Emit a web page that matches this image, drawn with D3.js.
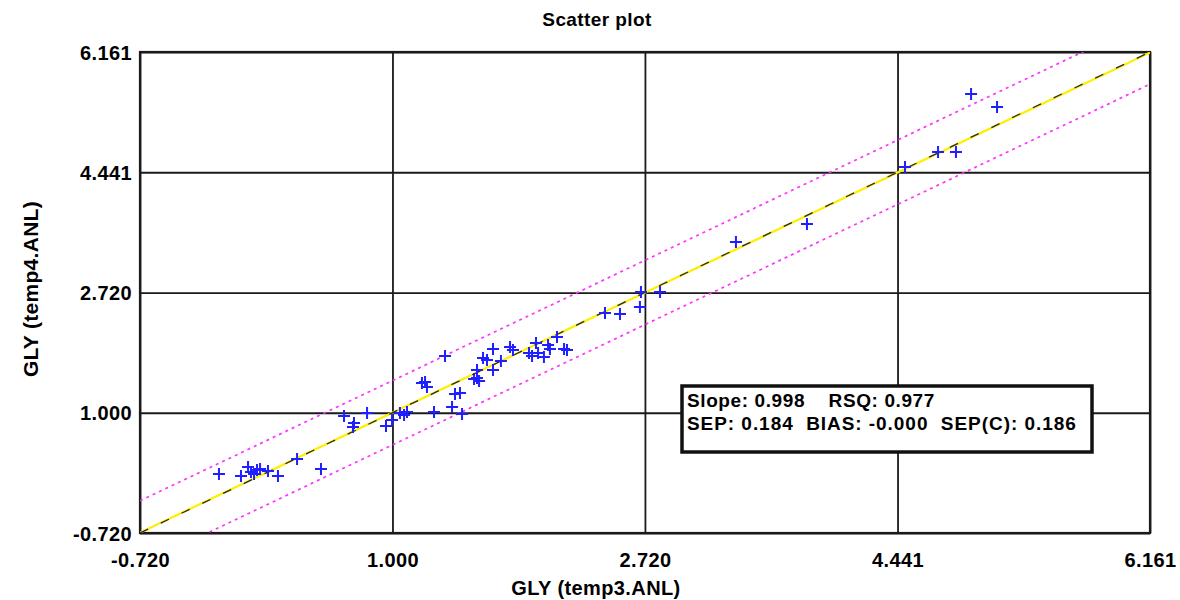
<!DOCTYPE html>
<html>
<head>
<meta charset="utf-8">
<script src="https://cdn.jsdelivr.net/npm/d3@7/dist/d3.min.js"></script>
<style>
  html, body { margin: 0; padding: 0; background: #fff; }
  svg { display: block; font-family: "Liberation Sans", Arial, sans-serif; }
</style>
</head>
<body>
<svg id="chart" width="1180" height="600"></svg>
<script>
// Axis range and tick labels (both axes share the same scale)
const axisMin = -0.720;
const axisMax = 6.161;
const tickValues = [-0.720, 1.000, 2.720, 4.441, 6.161];
const tickLabels = ["-0.720", "1.000", "2.720", "4.441", "6.161"];

// Reference values (temp3.ANL) and predicted values (temp4.ANL)
const xValues = [
  -0.182, -0.032, 0.016, 0.036, 0.057, 0.077, 0.098, 0.152, 0.220, 0.350, 0.513,
  1.358, 0.670, 0.738, 0.731, 0.827, 0.956, 0.997, 1.051, 1.079, 1.099,
  1.201, 1.222, 1.235, 1.283, 1.406, 1.426, 1.460, 1.474, 1.556, 1.576,
  1.576, 1.590, 1.617, 1.644, 1.685, 1.685, 1.739, 1.801, 1.821, 1.930,
  1.951, 1.978, 1.992, 2.032, 2.060, 2.073, 2.121, 2.169, 2.189,
  2.448, 2.550, 2.686, 2.693, 2.823, 3.340, 3.824, 4.492, 4.717, 4.839, 4.942, 5.119
];
const yValues = [
  0.124, 0.095, 0.224, 0.153, 0.124, 0.181, 0.196, 0.167, 0.095, 0.339, 0.196,
  1.812, 0.954, 0.854, 0.796, 0.997, 0.811, 0.897, 0.997, 0.968, 1.011,
  1.426, 1.440, 1.369, 1.011, 1.083, 1.269, 1.283, 0.982, 1.483, 1.612,
  1.497, 1.455, 1.784, 1.755, 1.912, 1.612, 1.741, 1.941, 1.898, 1.855,
  1.812, 1.998, 1.855, 1.798, 1.970, 1.912, 2.084, 1.912, 1.898,
  2.427, 2.413, 2.513, 2.728, 2.728, 3.443, 3.700, 4.516, 4.731, 4.731, 5.560, 5.374
];

// Calibration statistics
const slope = 0.998;
const rsq = 0.977;
const sep = 0.184;
const bias = -0.000;
const sepC = 0.186;
const intercept = 0.004;
const bandWidth = 2.5 * sep;   // half-width of the prediction band

const svg = d3.select("#chart");
svg.append("rect").attr("width", 1180).attr("height", 600).attr("fill", "#fff");

const m = { left: 140, right: 1150, top: 52, bottom: 533 };
const x = d3.scaleLinear().domain([axisMin, axisMax]).range([m.left, m.right]);
const y = d3.scaleLinear().domain([axisMin, axisMax]).range([m.bottom, m.top]);
const W = m.right - m.left, H = m.bottom - m.top;

// Grid lines and tick labels from the axes
const gx = svg.append("g")
  .attr("transform", `translate(0,${m.bottom})`)
  .call(d3.axisBottom(x).tickValues(tickValues).tickSize(-H).tickSizeOuter(0)
        .tickFormat((d, i) => tickLabels[i]));
const gy = svg.append("g")
  .attr("transform", `translate(${m.left},0)`)
  .call(d3.axisLeft(y).tickValues(tickValues).tickSize(-W).tickSizeOuter(0)
        .tickFormat((d, i) => tickLabels[i]));
[gx, gy].forEach(g => {
  g.select(".domain").remove();
  g.selectAll(".tick line").attr("stroke", "#1a1a1a").attr("stroke-width", 1.8);
  g.selectAll(".tick text")
    .attr("fill", "#000").attr("font-size", 20).attr("font-weight", "bold")
    .attr("letter-spacing", 0.4)
    .attr("font-family", "Liberation Sans, Arial, sans-serif");
});
gx.selectAll(".tick text").attr("dy", null).attr("y", 34);
gy.selectAll(".tick text").attr("x", -8).attr("dy", "0.36em");

// Plot frame
svg.append("rect")
  .attr("x", m.left).attr("y", m.top).attr("width", W).attr("height", H)
  .attr("fill", "none").attr("stroke", "#1a1a1a").attr("stroke-width", 2.2);

svg.append("clipPath").attr("id", "plotclip")
  .append("rect").attr("x", m.left).attr("y", m.top).attr("width", W).attr("height", H);
const plot = svg.append("g").attr("clip-path", "url(#plotclip)");

const lineGen = d3.line().x(d => x(d[0])).y(d => y(d[1]));
const xs = [axisMin, axisMax];

// Prediction band (dashed magenta)
[bandWidth, -bandWidth].forEach(off => {
  plot.append("path")
    .datum(xs.map(v => [v, v + off]))
    .attr("d", lineGen)
    .attr("fill", "none").attr("stroke", "#ff33ff")
    .attr("stroke-width", 1.7).attr("stroke-dasharray", "3,4");
});

// Regression line (yellow) with the identity line (black, broken) on top
plot.append("path")
  .datum(xs.map(v => [v, slope * v + intercept]))
  .attr("d", lineGen)
  .attr("fill", "none").attr("stroke", "#ffee00").attr("stroke-width", 2.2);
plot.append("path")
  .datum(xs.map(v => [v, v]))
  .attr("d", lineGen)
  .attr("fill", "none").attr("stroke", "#2a2a2a").attr("stroke-width", 1.3)
  .attr("stroke-dasharray", "9,14");

// Sample points
plot.selectAll("path.pt")
  .data(xValues.map((v, i) => [v, yValues[i]]))
  .join("path")
  .attr("class", "pt")
  .attr("transform", d => `translate(${x(d[0])},${y(d[1])})`)
  .attr("d", "M-6,0H6M0,-6V6")
  .attr("stroke", "#1f1fff").attr("stroke-width", 2).attr("fill", "none");

// Statistics box
const sp = n => "\u00a0".repeat(n);
const box = svg.append("g").attr("transform", "translate(682,386)");
box.append("rect").attr("width", 410).attr("height", 66)
  .attr("fill", "#fff").attr("stroke", "#111").attr("stroke-width", 3.5);
box.append("text").attr("x", 5).attr("y", 21)
  .attr("font-size", 19).attr("font-weight", "bold").attr("letter-spacing", 0.6)
  .text(`Slope: ${slope.toFixed(3)}${sp(4)}RSQ: ${rsq.toFixed(3)}`);
box.append("text").attr("x", 5).attr("y", 44)
  .attr("font-size", 19).attr("font-weight", "bold").attr("letter-spacing", 0.95)
  .text(`SEP: ${sep.toFixed(3)}${sp(2)}BIAS: -${Math.abs(bias).toFixed(3)}${sp(2)}SEP(C): ${sepC.toFixed(3)}`);

// Titles
svg.append("text").attr("x", 597).attr("y", 26).attr("text-anchor", "middle")
  .attr("font-size", 19).attr("font-weight", "bold").attr("letter-spacing", 0.4)
  .text("Scatter plot");
svg.append("text").attr("x", 596).attr("y", 595).attr("text-anchor", "middle")
  .attr("font-size", 20).attr("font-weight", "bold").attr("letter-spacing", 0.4)
  .text("GLY (temp3.ANL)");
svg.append("text").attr("transform", "translate(38,289) rotate(-90)")
  .attr("text-anchor", "middle")
  .attr("font-size", 21).attr("font-weight", "bold").attr("letter-spacing", 0.3)
  .text("GLY (temp4.ANL)");
</script>
</body>
</html>
